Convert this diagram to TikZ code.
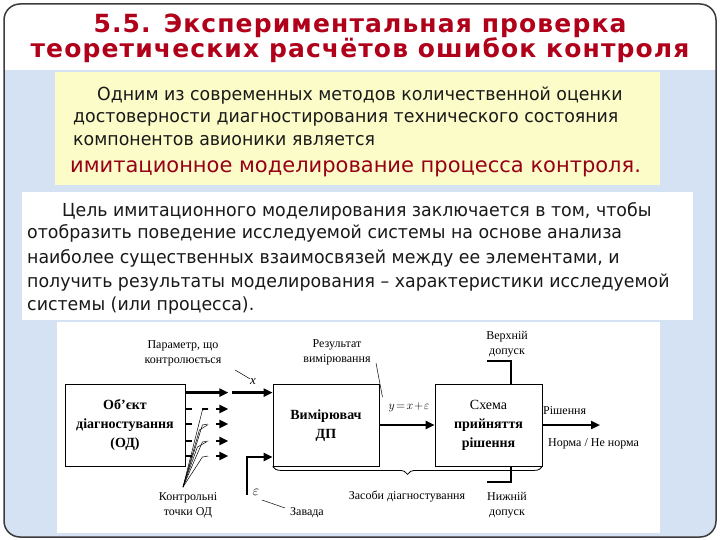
\documentclass[tikz,border=0pt]{standalone}
\usepackage{fontspec}
\setmainfont{Liberation Serif}
\newfontfamily\tah[FakeStretch=0.965]{DejaVu Sans}
\newfontfamily\tahred{DejaVu Sans}
\newfontfamily\tahtitle[LetterSpace=4.5]{DejaVu Sans}
\usetikzlibrary{arrows.meta,decorations.pathreplacing,calc}
\definecolor{slidebg}{RGB}{212,226,243}
\definecolor{framec}{RGB}{60,60,60}
\definecolor{titlered}{RGB}{176,0,26}
\definecolor{textred}{RGB}{150,0,24}
\definecolor{yellowbox}{RGB}{252,252,200}
\definecolor{txt}{RGB}{25,25,25}
\tikzset{
  ttl/.style={font=\tahtitle\bfseries\fontsize{25}{25}\selectfont, text=titlered, inner sep=0pt, anchor=base},
  para/.style={font=\tah\fontsize{18}{18}\selectfont, text=txt, inner sep=0pt, anchor=base west},
  redline/.style={font=\tahred\fontsize{21}{21}\selectfont, text=textred, inner sep=0pt, anchor=base west},
  blk/.style={draw, line width=0.8pt, fill=white, inner sep=0pt, align=center},
  blktxt/.style={font=\bfseries\fontsize{14}{19}\selectfont},
  lbl/.style={font=\fontsize{12}{15}\selectfont, inner sep=0pt, align=center},
  thk/.style={line width=2.6pt, -{Triangle[length=9pt,width=8pt]}},
  thin/.style={line width=0.5pt},
  wire/.style={line width=1.6pt},
}
\begin{document}
\begin{tikzpicture}[x=1pt,y=-1pt]
\useasboundingbox (0,0) rectangle (720,540);
\fill[white] (0,0) rectangle (720,540);
% slide frame
\fill[slidebg, rounded corners=16pt] (4,4) rectangle (716,537);
\begin{scope}
\clip[rounded corners=16pt] (4,4) rectangle (716,537);
\fill[white] (4,4) rectangle (716,70);
\end{scope}
\draw[framec, line width=1.5pt, rounded corners=16pt] (4,4) rectangle (716,537);
% title
\node[ttl] (t1) at (360,33) {5.5. Экспериментальная проверка};
\node[ttl] (t2) at (360,58) {теоретических расчётов ошибок контроля};
% yellow box
\fill[yellowbox] (55,72) rectangle (660,185);
\node[para] (a1) at (97,101) {Одним из современных методов количественной оценки};
\node[para] (a2) at (73,123) {достоверности диагностирования технического состояния};
\node[para] (a3) at (73,146) {компонентов авионики является};
\node[redline] (a4) at (70,173) {имитационное моделирование процесса контроля.};
% white box 2
\fill[white] (22,192) rectangle (693,320);
\node[para] (b1) at (62,216) {Цель имитационного моделирования заключается в том, чтобы};
\node[para] (b2) at (27,239) {отобразить поведение исследуемой системы на основе анализа};
\node[para] (b3) at (27,263) {наиболее существенных взаимосвязей между ее элементами, и};
\node[para] (b4) at (27,287) {получить результаты моделирования – характеристики исследуемой};
\node[para] (b5) at (27,310) {системы (или процесса).};
% diagram area
\fill[white] (57,322) rectangle (660,533);
% blocks
\node[blk, minimum width=120pt, minimum height=82pt] (od) at (125,425) {};
\node[blktxt, align=center] (odt) at (125,425) {Об'єкт\\діагностування\\(ОД)};
\node[blk, minimum width=106pt, minimum height=82pt] (dp) at (326,425) {};
\node[blktxt, align=center] (dpt) at (326,426) {Вимірювач\\ДП};
\node[blk, minimum width=107pt, minimum height=82pt] (sch) at (488.5,425) {};
\node[blktxt, align=center] (scht) at (488.5,425) {\mdseries Схема\\прийняття\\рішення};
% top arrow from OD
\coordinate (o1) at ($(od.north east)+(0,9)$);
\coordinate (o1e) at ($(o1)+(43,0)$);
\coordinate (o2) at ($(o1)+(47,0)$);
\draw[thk] (o1) -- (o1e);
\draw[thk] (o2) -- (o2 -| dp.west);
% control point rows
\foreach \yy/\nm in {409/r1,424/r2,441/r3,456/r4}{
  \coordinate (\nm a) at (od.east |- 0,\yy);
  \draw[line width=2pt] (\nm a) -- ++(7,0);
  \draw[line width=2pt, -{Triangle[length=9pt,width=8pt]}] ($(\nm a)+(31,0)$) -- ++(12,0);
}
\coordinate (cp) at (183,487);
\draw[line width=2pt] ($(r1a)+(17,0)$) -- ++(6,0);
\foreach \nm in {r1,r2,r3,r4}{
  \draw[thin] (cp) -- ($(\nm a)+(17,1)$) -- ($(\nm a)+(23,0)$);
}
\draw[thin] (cp) -- ($(r2a)+(14,6)$) -- ($(r2a)+(22,1)$);
\draw[thin] (cp) -- ($(r3a)+(12,6)$) -- ($(r3a)+(21,1)$);
\node[lbl] (cpl) at (188,505) {Контрольні\\точки ОД};
% parameter label
\node[lbl] (pl) at (183,353) {Параметр, що\\контролюється};
\coordinate (pla) at (235,370);
\node[font=\itshape\fontsize{13}{13}\selectfont, inner sep=0pt] (xl) at (253,382) {x};
\draw[thin] (pla) .. controls (242,374) .. (xl.north west);
% measured result
\node[lbl] (rl) at (337,352) {Результат\\вимірювання};
\node[font=\fontsize{13}{13}\selectfont, inner sep=0pt] (yl) at (409,407) {$y\!=\!x\!+\!\varepsilon$};
\draw[thin] (376,363) -- ($(yl.north west)+(-6,-5)$);
\draw[thk] (dp.east) -- (sch.west);
% noise
\coordinate (e0) at (247,495);
\coordinate (e1) at (dp.west |- 0,457);
\draw[line width=2.6pt] (e0) -- (e0 |- e1) -- ($(e1)+(-9,0)$);
\draw[thk] ($(e1)+(-10,0)$) -- (e1);
\node[font=\fontsize{15}{15}\selectfont, inner sep=0pt] (el) at (256,492) {$\varepsilon$};
\draw[thin] (262,500) -- (285,508);
\node[lbl] (zl) at (307,513) {Завада};
% brace
\draw[line width=0.8pt, decorate, decoration={brace, mirror, amplitude=8pt}] (dp.south west) -- (sch.south east);
\node[lbl] (zdl) at (407,496) {Засоби діагностування};
% tolerances
\coordinate (vt) at (sch.north -| 511,0);
\draw[wire] (vt) -- (511,361) -- (487,361);
\node[lbl] (vtl) at (507,344) {Верхній\\допуск};
\coordinate (nt) at (sch.south -| 511,0);
\draw[wire] (nt) -- (511,482) -- (487,482);
\node[lbl] (ntl) at (507,505) {Нижній\\допуск};
% output
\coordinate (out) at (600,425);
\draw[thk] (sch.east) -- (out);
\node[lbl, anchor=west] (ol) at (543,411) {Рішення};
\node[lbl, anchor=west] (nl) at (548,444) {Норма / Не норма};
\end{tikzpicture}
\end{document}
